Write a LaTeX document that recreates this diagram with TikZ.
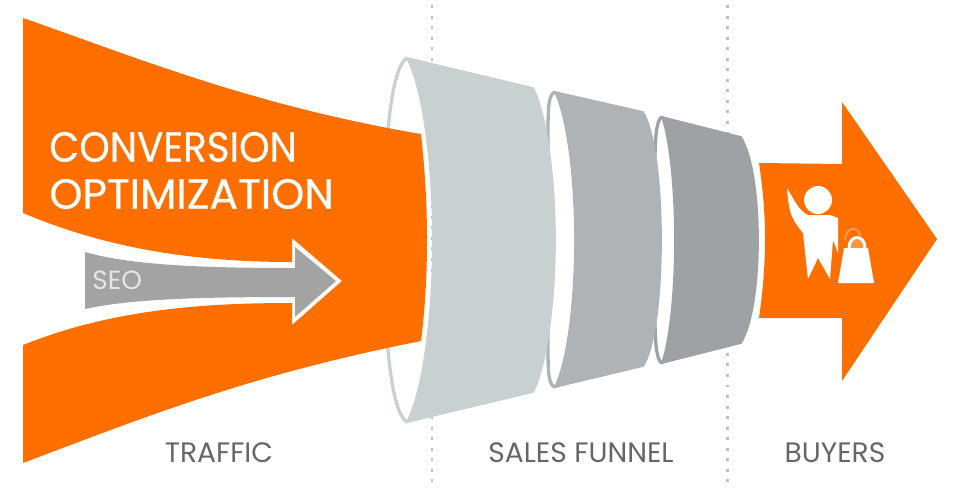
\documentclass[tikz,border=0pt]{standalone}
\usepackage{fontspec}
\setmainfont{Poppins}
\newfontfamily\headfont[FakeBold=0.5]{Poppins}
\usepackage{tikz}
\definecolor{flow}{HTML}{FF6F00}
\definecolor{funnelA}{HTML}{C9D0D0}
\definecolor{funnelB}{HTML}{AFB3B5}
\definecolor{funnelC}{HTML}{9EA2A5}
\definecolor{seoarrow}{HTML}{A3A3A3}
\definecolor{captiontext}{HTML}{666666}
\tikzset{
  divider/.style={line width=1.7pt, draw=black!25, dash pattern=on 1.7pt off 4.3pt},
  rim/.style={line width=1.9pt, line cap=round},
  body/.style={line width=1pt, line join=round},
  caption/.style={text=captiontext, font=\fontsize{16pt}{19pt}\selectfont, inner sep=0pt},
  headline/.style={text=white, font=\headfont\fontsize{24pt}{29pt}\selectfont, inner sep=0pt, anchor=west}
}
\begin{document}
\begin{tikzpicture}[x=0.02cm, y=-0.02cm]
  \useasboundingbox (0,0) rectangle (960,497);
  \draw[divider] (432,5) -- (432,485);
  \draw[divider] (727,5) -- (727,485);
  % rims
  \draw[rim, funnelA] (407,58) .. controls (390,68) and (384,150) .. (384,240) .. controls (384,330) and (390,412) .. (407,422);
  \draw[rim, funnelB] (555,92) .. controls (549,94) and (548,105) .. (548,130) -- (548,350) .. controls (548,375) and (549,385) .. (555,387);
  \draw[rim, funnelC] (662,117) .. controls (657,119) and (655,135) .. (655,160) -- (655,320) .. controls (655,345) and (657,361) .. (662,363);
  % traffic
  \fill[flow] (23,18) .. controls (130,55) and (250,105) .. (421,134)
    .. controls (425,170) and (427,205) .. (427,240) .. controls (427,275) and (425,310) .. (421,341)
    .. controls (250,375) and (150,415) .. (23,463) -- (23,345)
    .. controls (110,310) and (200,303) .. (292,303) -- (292,325) -- (342,281) -- (292,238) -- (292,262)
    .. controls (200,262) and (110,250) .. (23,213) -- cycle;
  \fill[seoarrow] (85,252) .. controls (130,265) and (200,268) .. (295,268) -- (295,247) -- (336,281) -- (295,317) -- (295,297)
    .. controls (200,297) and (130,299) .. (85,309) -- cycle;
  % funnel
  \filldraw[body, funnelA] (407,58) -- (533,88) .. controls (547,115) and (555,180) .. (555,240) .. controls (555,300) and (547,365) .. (533,392)
    -- (407,422) .. controls (424,390) and (433,310) .. (433,240) .. controls (433,170) and (424,90) .. (407,58) -- cycle;
  \filldraw[body, funnelB] (555,92) -- (643,112) .. controls (654,130) and (661,180) .. (661,240) .. controls (661,300) and (654,350) .. (643,366)
    -- (555,387) .. controls (568,360) and (575,300) .. (575,240) .. controls (575,180) and (568,120) .. (555,92) -- cycle;
  \filldraw[body, funnelC] (662,117) -- (741,137) .. controls (752,155) and (758,195) .. (758,240) .. controls (758,285) and (752,325) .. (741,343)
    -- (662,363) .. controls (670,340) and (675,290) .. (675,240) .. controls (675,190) and (670,140) .. (662,117) -- cycle;
  % buyers
  \fill[flow] (759,163) -- (842,164) -- (842,102) -- (937,239) -- (842,381) -- (842,318) -- (759,318)
    .. controls (763,290) and (765,265) .. (765,239) .. controls (765,213) and (763,190) .. (759,163) -- cycle;
  \fill[white] (818,200) circle (14);
  \fill[white] (787,188) .. controls (788,200) and (789,208) .. (791,214) .. controls (794,222) and (799,228) .. (803,233)
    -- (808,279) -- (818,258) -- (830,279) -- (833,240) -- (838,253) -- (838,218) -- (830,215) -- (808,215) .. controls (800,212) and (794,200) .. (787,188) -- cycle;
  \draw[line width=1pt, flow!65!white] (845,240) .. controls (845,226) and (860,226) .. (860,236);
  \fill[flow!75!white] (849,248) .. controls (849,234) and (865,234) .. (865,248) -- cycle;
  \fill[white] (844,248) -- (868,248) -- (874,283) -- (838,283) -- cycle;
  \draw[line width=1.7pt, white] (849,248) .. controls (849,234) and (865,234) .. (865,248);
  % labels
  \node[headline] (conversion) at (49,147) {\scalebox{.92}[1]{CONVERSION}};
  \node[headline] (optimization) at (49,194) {OPTIMIZATION};
  \node[text=white!90!black, font=\fontsize{15pt}{18pt}\selectfont, inner sep=0pt, anchor=west] (seo) at (92,280) {SEO};
  \node[caption] (traffic) at (219,453) {TRAFFIC};
  \node[caption] (sales) at (581,453) {SALES FUNNEL};
  \node[caption] (buyers) at (835,453) {BUYERS};
\end{tikzpicture}
\end{document}
